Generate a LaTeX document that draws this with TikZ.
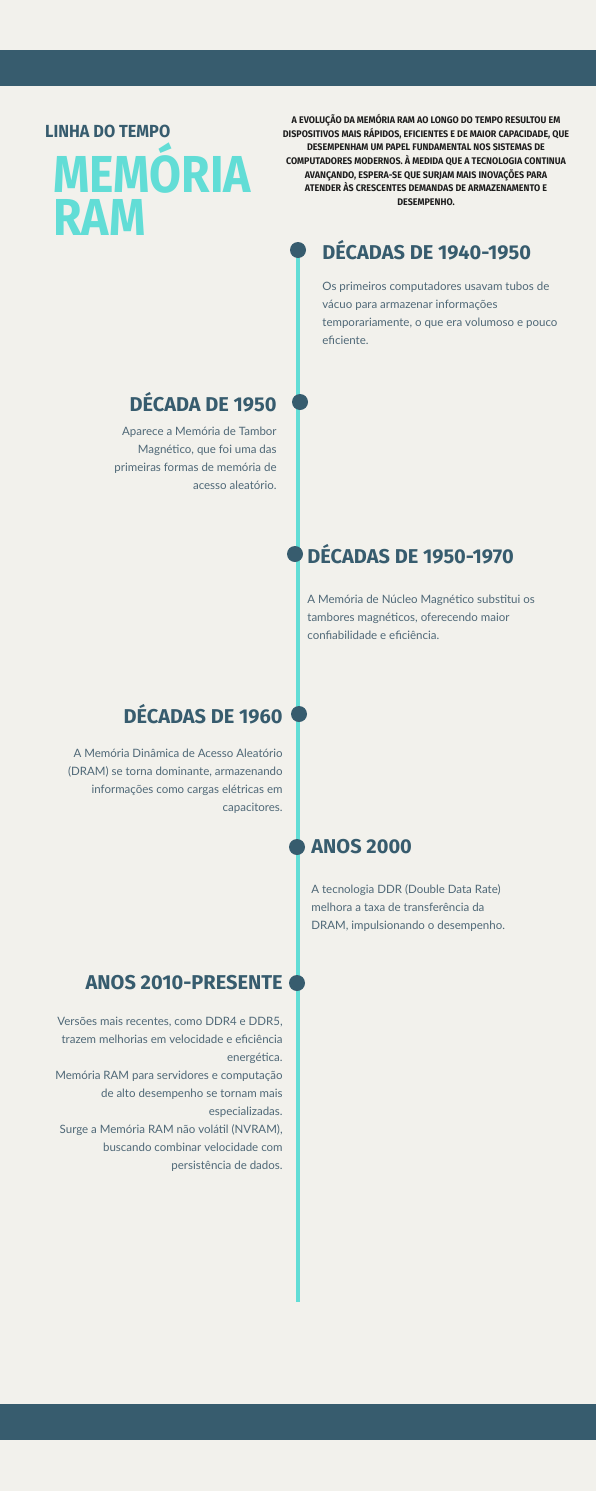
\documentclass[tikz,border=0pt]{standalone}
\usepackage{fontspec}
\setmainfont{Lato}
\newfontfamily\headfont{Fira Sans}
\newfontfamily\introfont{Fira Sans}[FakeStretch=0.93]
\newfontfamily\titlefont{Fira Sans}[FakeStretch=0.89]
\usetikzlibrary{positioning,backgrounds}

\definecolor{paper}{HTML}{F2F1EC}
\definecolor{navy}{HTML}{375C6E}
\definecolor{aqua}{HTML}{62DDD6}
\definecolor{bodygray}{HTML}{4F6877}
\definecolor{ink}{HTML}{1E1E1E}

\tikzset{
  dot/.style={circle,fill=navy,minimum size=16pt,inner sep=0pt},
  yearhead/.style={font=\headfont\bfseries\fontsize{20}{22}\selectfont,text=navy,inner sep=0pt},
  yeartext/.style={font=\fontsize{11.5}{18}\selectfont,text=bodygray,inner sep=0pt},
  bigtitle/.style={font=\titlefont\bfseries\fontsize{52}{43}\selectfont,text=aqua,inner sep=0pt,anchor=base west,align=left},
  spine/.style={aqua,line width=4.5pt},
  band/.style={fill=navy}
}

\begin{document}
\begin{tikzpicture}[x=1pt,y=-1pt]
\useasboundingbox (0,0) rectangle (596,1491);

% title block
\node[font=\introfont\bfseries\fontsize{17.5}{18}\selectfont,text=navy,inner sep=0pt,anchor=base west] (kicker) at (45,137) {LINHA DO TEMPO};
\node[bigtitle] (title) at (53,235) {MEMÓRIA\\RAM};
\node[font=\introfont\bfseries\fontsize{9.6}{13.7}\selectfont,text=ink,inner sep=0pt,anchor=north,align=center] (intro) at (426,114)
  {A EVOLUÇÃO DA MEMÓRIA RAM AO LONGO DO TEMPO RESULTOU EM\\
   DISPOSITIVOS MAIS RÁPIDOS, EFICIENTES E DE MAIOR CAPACIDADE, QUE\\
   DESEMPENHAM UM PAPEL FUNDAMENTAL NOS SISTEMAS DE\\
   COMPUTADORES MODERNOS. À MEDIDA QUE A TECNOLOGIA CONTINUA\\
   AVANÇANDO, ESPERA-SE QUE SURJAM MAIS INOVAÇÕES PARA\\
   ATENDER ÀS CRESCENTES DEMANDAS DE ARMAZENAMENTO E\\
   DESEMPENHO.};

% timeline dots
\node[dot] (d1) at (298,250) {};
\node[dot] (d2) at (300,402) {};
\node[dot] (d3) at (295,554) {};
\node[dot] (d4) at (299,714) {};
\node[dot] (d5) at (297,847) {};
\node[dot] (d6) at (297,983) {};
\coordinate (spineend) at (298,1302);

% headings
\node[yearhead,right=16pt of d1] (h1) {DÉCADAS DE 1940-1950};
\node[yearhead,left=15pt of d2] (h2) {DÉCADA DE 1950};
\node[yearhead,right=4pt of d3] (h3) {DÉCADAS DE 1950-1970};
\node[yearhead,left=8pt of d4] (h4) {DÉCADAS DE 1960};
\node[yearhead,right=6pt of d5] (h5) {ANOS 2000};
\node[yearhead,left=6pt of d6] (h6) {ANOS 2010-PRESENTE};

% texts
\node[yeartext,below=22pt of h1.south west,anchor=north west,align=left] (t1)
  {Os primeiros computadores usavam tubos de\\
   vácuo para armazenar informações\\
   temporariamente, o que era volumoso e pouco\\
   eficiente.};
\node[yeartext,below=15pt of h2.south east,anchor=north east,align=right] (t2)
  {Aparece a Memória de Tambor\\
   Magnético, que foi uma das\\
   primeiras formas de memória de\\
   acesso aleatório.};
\node[yeartext,below=31pt of h3.south west,anchor=north west,align=left] (t3)
  {A Memória de Núcleo Magnético substitui os\\
   tambores magnéticos, oferecendo maior\\
   confiabilidade e eficiência.};
\node[yeartext,below=25pt of h4.south east,anchor=north east,align=right] (t4)
  {A Memória Dinâmica de Acesso Aleatório\\
   (DRAM) se torna dominante, armazenando\\
   informações como cargas elétricas em\\
   capacitores.};
\node[yeartext,below=30pt of h5.south west,anchor=north west,align=left] (t5)
  {A tecnologia DDR (Double Data Rate)\\
   melhora a taxa de transferência da\\
   DRAM, impulsionando o desempenho.};
\node[yeartext,below=26pt of h6.south east,anchor=north east,align=right] (t6)
  {Versões mais recentes, como DDR4 e DDR5,\\
   trazem melhorias em velocidade e eficiência\\
   energética.\\
   Memória RAM para servidores e computação\\
   de alto desempenho se tornam mais\\
   especializadas.\\
   Surge a Memória RAM não volátil (NVRAM),\\
   buscando combinar velocidade com\\
   persistência de dados.};

\begin{scope}[on background layer]
\fill[paper] (0,0) rectangle (596,1491);
\fill[band] (0,50) rectangle (596,86);
\fill[band] (0,1404) rectangle (596,1440);
\draw[spine] (d1.center) -- (spineend);
\end{scope}
\end{tikzpicture}
\end{document}
